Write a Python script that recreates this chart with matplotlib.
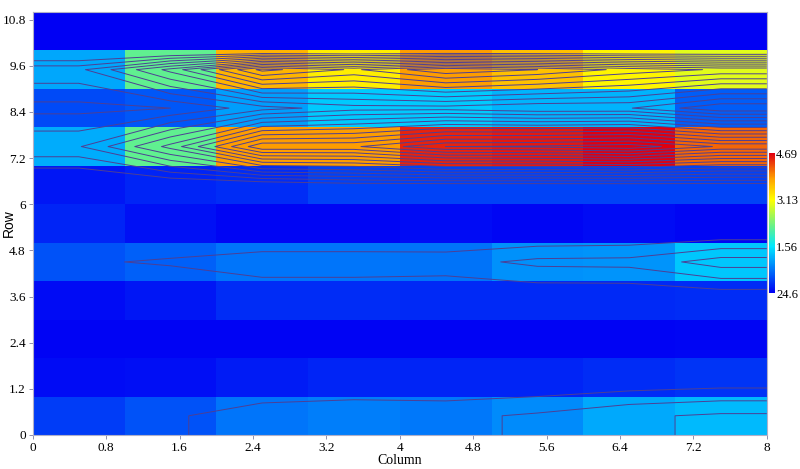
"""
Heatmap with contour overlay (Row x Column grid)
"""
import matplotlib
matplotlib.use("Agg")
import matplotlib.pyplot as plt
import numpy as np
from matplotlib.colors import LinearSegmentedColormap

# ---- data (rows listed bottom -> top, 8 columns each) ----
col_edges = [0, 1, 2, 3, 4, 5, 6, 7, 8]
row_edges = [0, 1, 2, 3, 4, 5, 6, 7, 8, 9, 10, 11]

row0 = [0.42, 0.55, 0.80, 0.85, 0.82, 0.95, 1.15, 1.25]
row1 = [0.08, 0.10, 0.20, 0.25, 0.25, 0.25, 0.30, 0.35]
row2 = [0.02, 0.02, 0.03, 0.03, 0.03, 0.03, 0.03, 0.04]
row3 = [0.08, 0.15, 0.30, 0.30, 0.28, 0.28, 0.28, 0.30]
row4 = [0.55, 0.65, 0.80, 0.80, 0.78, 0.98, 1.00, 1.35]
row5 = [0.25, 0.12, 0.05, 0.05, 0.08, 0.05, 0.08, 0.05]
row6 = [0.15, 0.25, 0.30, 0.45, 0.45, 0.45, 0.45, 0.45]
row7 = [1.17, 2.20, 3.85, 3.85, 4.50, 4.55, 4.69, 4.15]
row8 = [0.50, 0.60, 1.07, 1.37, 1.37, 1.22, 1.22, 0.64]
row9 = [1.12, 2.20, 3.70, 3.25, 3.85, 3.60, 3.20, 2.95]
row10 = [0.0, 0.0, 0.0, 0.0, 0.0, 0.0, 0.0, 0.0]

xticks = [0, 0.8, 1.6, 2.4, 3.2, 4, 4.8, 5.6, 6.4, 7.2, 8]
yticks = [0, 1.2, 2.4, 3.6, 4.8, 6, 7.2, 8.4, 9.6, 10.8]
cbar_ticks = [0.0, 1.56, 3.13, 4.69]
cbar_labels = ["24.6", "1.56", "3.13", "4.69"]

Z = np.array([row0, row1, row2, row3, row4, row5, row6, row7, row8, row9, row10])
vmin, vmax = 0.0, 4.69

cmap = LinearSegmentedColormap.from_list(
    "bcgyr",
    [(0.0, "#0000f4"), (0.333, "#00e8ff"), (0.47, "#60f090"),
     (0.667, "#ffff00"), (0.82, "#ffa000"), (1.0, "#e00010")],
)

serif = "Liberation Serif"
fig = plt.figure(figsize=(8, 4.69), dpi=100)
ax = fig.add_axes([0.041, 0.0725, 0.9175, 0.902])

mesh = ax.pcolormesh(col_edges, row_edges, Z, cmap=cmap, vmin=vmin, vmax=vmax,
                     shading="flat")

# contour grid: cell centres, x edges padded, top node at y=10 takes the last row
xc = np.array(col_edges[:-1]) + 0.5
yc = np.array(row_edges[:-2]) + 0.5
xg = np.concatenate([[col_edges[0]], xc, [col_edges[-1]]])
yg = np.concatenate([[row_edges[0]], yc, [row_edges[-2]]])
Zc = np.vstack([Z[:1], Z[:-1], Z[-1:]])
Zc = np.pad(Zc, ((0, 0), (1, 1)), mode="edge")
levels = np.arange(0.6, 4.65, 0.3)
ax.contour(xg, yg, Zc, levels=levels, colors="#4e3f94", linewidths=0.7)

ax.set_xlim(0, 8)
ax.set_ylim(0, 11)
ax.set_xticks(xticks)
ax.set_xticklabels([f"{t:g}" for t in xticks], family=serif, fontsize=9.5)
ax.set_yticks(yticks)
ax.set_yticklabels([f"{t:g}" for t in yticks], family=serif, fontsize=9.5)
ax.tick_params(length=3, width=0.6, color="#8080a0", pad=2)
for sp in ax.spines.values():
    sp.set_color("#b0b0c8")
    sp.set_linewidth(0.8)

ax.set_xlabel("Column", family=serif, fontsize=10, labelpad=0)
fig.text(0.011, 0.525, "Row", family="Liberation Sans", fontsize=10,
         rotation=90, ha="center", va="center")

cax = fig.add_axes([0.961, 0.375, 0.0075, 0.2985])
cb = fig.colorbar(mesh, cax=cax, ticks=cbar_ticks)
cb.ax.set_yticklabels(cbar_labels, family=serif, fontsize=9)
cb.ax.tick_params(length=0, pad=1)
cb.outline.set_visible(False)

plt.savefig("out.png", dpi=100)
plt.close()
